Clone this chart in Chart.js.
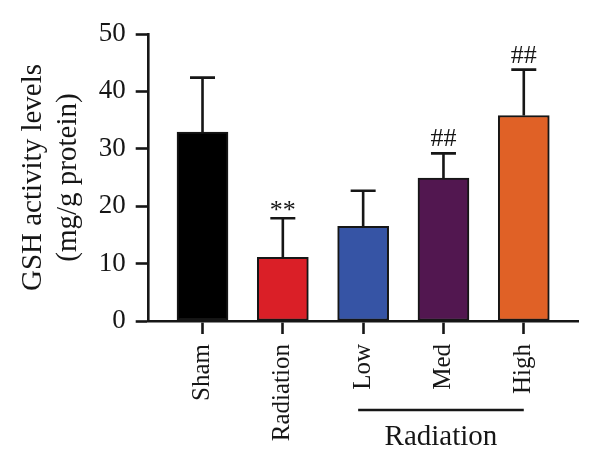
<!DOCTYPE html>
<html>
<head>
<meta charset="utf-8">
<script src="https://cdn.jsdelivr.net/npm/chart.js@4/dist/chart.umd.min.js"></script>
<style>
  html, body { margin: 0; padding: 0; background: #ffffff; }
  #wrap { width: 600px; height: 468px; }
</style>
</head>
<body>
<div id="wrap"><canvas id="c" width="600" height="468"></canvas></div>
<script>
// ---- data ----
const categories = ['Sham', 'Radiation', 'Low', 'Med', 'High'];
const values = [32.9, 11.1, 16.5, 24.9, 35.8];
const errors = [9.5, 6.8, 6.2, 4.3, 8.0];
const marks = ['', '**', '', '##', '##'];
const barColors = ['#000000', '#da1f27', '#3654a5', '#521750', '#e06126'];
const yTicks = [0, 10, 20, 30, 40, 50];
const yTitle = ['GSH activity levels', '(mg/g protein)'];
const groupLabel = 'Radiation';
const groupFrom = 2, groupTo = 4;

const SERIF = "'Liberation Serif', 'DejaVu Serif', serif";
const INK = '#161616';

const errorBarPlugin = {
  id: 'errorBars',
  afterDatasetsDraw(chart) {
    const ctx = chart.ctx;
    const ys = chart.scales.y;
    const meta = chart.getDatasetMeta(0);
    ctx.save();
    ctx.strokeStyle = INK;
    ctx.lineWidth = 2.6;
    ctx.lineCap = 'butt';
    meta.data.forEach((bar, i) => {
      const top = ys.getPixelForValue(values[i] + errors[i]);
      ctx.beginPath();
      ctx.moveTo(bar.x, bar.y);
      ctx.lineTo(bar.x, top);
      ctx.moveTo(bar.x - 12.5, top);
      ctx.lineTo(bar.x + 12.5, top);
      ctx.stroke();
      if (marks[i]) {
        ctx.fillStyle = INK;
        ctx.font = '26px ' + SERIF;
        ctx.textAlign = 'center';
        ctx.textBaseline = 'alphabetic';
        const m = ctx.measureText(marks[i]);
        const inkBottomGap = 7;
        const baseline = top - inkBottomGap - m.actualBoundingBoxDescent;
        ctx.fillText(marks[i], bar.x, baseline);
      }
    });
    // group bracket
    const xs = chart.scales.x;
    const x1 = xs.getPixelForValue(groupFrom) - 5;
    const x2 = xs.getPixelForValue(groupTo);
    ctx.beginPath();
    ctx.moveTo(x1, 410);
    ctx.lineTo(x2, 410);
    ctx.stroke();
    ctx.fillStyle = INK;
    ctx.font = '29px ' + SERIF;
    ctx.textAlign = 'center';
    ctx.textBaseline = 'alphabetic';
    ctx.fillText(groupLabel, (x1 + x2) / 2, 445);
    ctx.restore();
  }
};

new Chart(document.getElementById('c'), {
  type: 'bar',
  data: {
    datasets: [{
      data: values.map((v, i) => ({ x: i, y: v })),
      backgroundColor: barColors,
      borderColor: INK,
      borderWidth: 2,
      borderSkipped: false,
      barThickness: 51
    }]
  },
  options: {
    responsive: false,
    animation: false,
    devicePixelRatio: 1,
    layout: { padding: { left: 0, right: 22, top: 34, bottom: 0 } },
    plugins: { legend: { display: false }, tooltip: { enabled: false } },
    scales: {
      x: {
        type: 'linear',
        offset: false,
        min: -0.67,
        max: 4.675,
        afterBuildTicks: s => { s.ticks = categories.map((_, i) => ({ value: i })); },
        afterFit: s => { s.height = 147; },
        grid: { offset: false, drawOnChartArea: false, drawTicks: true, tickLength: 13, tickColor: INK, tickWidth: 2.6 },
        border: { display: true, color: INK, width: 2.6 },
        ticks: {
          autoSkip: false,
          maxRotation: 90,
          minRotation: 90,
          padding: 10,
          color: INK,
          font: { family: SERIF, size: 25 },
          callback: v => categories[v]
        }
      },
      y: {
        min: 0,
        max: 50,
        afterBuildTicks: s => { s.ticks = yTicks.map(v => ({ value: v })); },
        afterFit: s => { s.width = 148.7; },
        grid: { drawOnChartArea: false, drawTicks: true, tickLength: 13, tickColor: INK, tickWidth: 2.6 },
        border: { display: true, color: INK, width: 2.6 },
        ticks: { padding: 10, color: INK, font: { family: SERIF, size: 27 } },
        title: {
          display: true,
          text: yTitle,
          color: INK,
          font: { family: SERIF, size: 29, lineHeight: 1.2 },
          padding: { top: 16, bottom: 0 }
        }
      }
    }
  },
  plugins: [errorBarPlugin]
});
</script>
</body>
</html>
